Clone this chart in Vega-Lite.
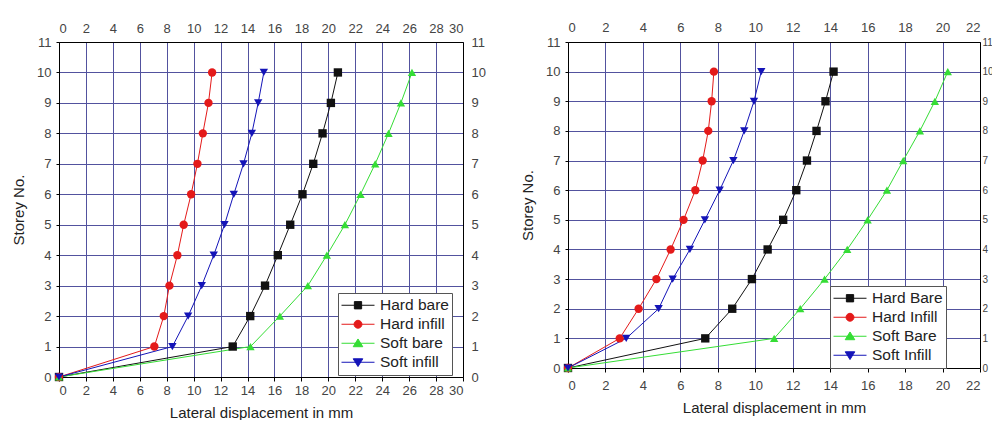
{
  "$schema": "https://vega.github.io/schema/vega-lite/v6.json",
  "background": "white",
  "padding": {"left": 11, "top": 21, "right": 0, "bottom": 0},
  "spacing": 34,
  "datasets": {
    "left": [
      {"s": "Hard bare", "d": 0, "storey": 0}, {"s": "Hard bare", "d": 12.9, "storey": 1}, {"s": "Hard bare", "d": 14.2, "storey": 2}, {"s": "Hard bare", "d": 15.3, "storey": 3}, {"s": "Hard bare", "d": 16.25, "storey": 4}, {"s": "Hard bare", "d": 17.17, "storey": 5}, {"s": "Hard bare", "d": 18.08, "storey": 6}, {"s": "Hard bare", "d": 18.88, "storey": 7}, {"s": "Hard bare", "d": 19.57, "storey": 8}, {"s": "Hard bare", "d": 20.19, "storey": 9}, {"s": "Hard bare", "d": 20.71, "storey": 10},
      {"s": "Hard infill", "d": 0, "storey": 0}, {"s": "Hard infill", "d": 7.08, "storey": 1}, {"s": "Hard infill", "d": 7.78, "storey": 2}, {"s": "Hard infill", "d": 8.2, "storey": 3}, {"s": "Hard infill", "d": 8.79, "storey": 4}, {"s": "Hard infill", "d": 9.26, "storey": 5}, {"s": "Hard infill", "d": 9.81, "storey": 6}, {"s": "Hard infill", "d": 10.28, "storey": 7}, {"s": "Hard infill", "d": 10.68, "storey": 8}, {"s": "Hard infill", "d": 11.1, "storey": 9}, {"s": "Hard infill", "d": 11.37, "storey": 10},
      {"s": "Soft bare", "d": 0, "storey": 0}, {"s": "Soft bare", "d": 14.22, "storey": 1}, {"s": "Soft bare", "d": 16.4, "storey": 2}, {"s": "Soft bare", "d": 18.48, "storey": 3}, {"s": "Soft bare", "d": 19.89, "storey": 4}, {"s": "Soft bare", "d": 21.23, "storey": 5}, {"s": "Soft bare", "d": 22.39, "storey": 6}, {"s": "Soft bare", "d": 23.48, "storey": 7}, {"s": "Soft bare", "d": 24.47, "storey": 8}, {"s": "Soft bare", "d": 25.39, "storey": 9}, {"s": "Soft bare", "d": 26.21, "storey": 10},
      {"s": "Soft infill", "d": 0, "storey": 0}, {"s": "Soft infill", "d": 8.42, "storey": 1}, {"s": "Soft infill", "d": 9.59, "storey": 2}, {"s": "Soft infill", "d": 10.6, "storey": 3}, {"s": "Soft infill", "d": 11.49, "storey": 4}, {"s": "Soft infill", "d": 12.29, "storey": 5}, {"s": "Soft infill", "d": 12.98, "storey": 6}, {"s": "Soft infill", "d": 13.7, "storey": 7}, {"s": "Soft infill", "d": 14.32, "storey": 8}, {"s": "Soft infill", "d": 14.79, "storey": 9}, {"s": "Soft infill", "d": 15.21, "storey": 10}
    ],
    "right": [
      {"s": "Hard Bare", "d": 0, "storey": 0}, {"s": "Hard Bare", "d": 7.33, "storey": 1}, {"s": "Hard Bare", "d": 8.77, "storey": 2}, {"s": "Hard Bare", "d": 9.82, "storey": 3}, {"s": "Hard Bare", "d": 10.66, "storey": 4}, {"s": "Hard Bare", "d": 11.49, "storey": 5}, {"s": "Hard Bare", "d": 12.19, "storey": 6}, {"s": "Hard Bare", "d": 12.76, "storey": 7}, {"s": "Hard Bare", "d": 13.27, "storey": 8}, {"s": "Hard Bare", "d": 13.75, "storey": 9}, {"s": "Hard Bare", "d": 14.18, "storey": 10},
      {"s": "Hard Infill", "d": 0, "storey": 0}, {"s": "Hard Infill", "d": 2.76, "storey": 1}, {"s": "Hard Infill", "d": 3.77, "storey": 2}, {"s": "Hard Infill", "d": 4.72, "storey": 3}, {"s": "Hard Infill", "d": 5.48, "storey": 4}, {"s": "Hard Infill", "d": 6.17, "storey": 5}, {"s": "Hard Infill", "d": 6.8, "storey": 6}, {"s": "Hard Infill", "d": 7.19, "storey": 7}, {"s": "Hard Infill", "d": 7.49, "storey": 8}, {"s": "Hard Infill", "d": 7.67, "storey": 9}, {"s": "Hard Infill", "d": 7.79, "storey": 10},
      {"s": "Soft Bare", "d": 0, "storey": 0}, {"s": "Soft Bare", "d": 11.01, "storey": 1}, {"s": "Soft Bare", "d": 12.4, "storey": 2}, {"s": "Soft Bare", "d": 13.7, "storey": 3}, {"s": "Soft Bare", "d": 14.91, "storey": 4}, {"s": "Soft Bare", "d": 16.0, "storey": 5}, {"s": "Soft Bare", "d": 17.03, "storey": 6}, {"s": "Soft Bare", "d": 17.9, "storey": 7}, {"s": "Soft Bare", "d": 18.79, "storey": 8}, {"s": "Soft Bare", "d": 19.59, "storey": 9}, {"s": "Soft Bare", "d": 20.28, "storey": 10},
      {"s": "Soft Infill", "d": 0, "storey": 0}, {"s": "Soft Infill", "d": 3.11, "storey": 1}, {"s": "Soft Infill", "d": 4.84, "storey": 2}, {"s": "Soft Infill", "d": 5.59, "storey": 3}, {"s": "Soft Infill", "d": 6.51, "storey": 4}, {"s": "Soft Infill", "d": 7.31, "storey": 5}, {"s": "Soft Infill", "d": 8.1, "storey": 6}, {"s": "Soft Infill", "d": 8.83, "storey": 7}, {"s": "Soft Infill", "d": 9.41, "storey": 8}, {"s": "Soft Infill", "d": 9.93, "storey": 9}, {"s": "Soft Infill", "d": 10.32, "storey": 10}
    ]
  },
  "hconcat": [
    {
      "width": 404,
      "height": 335,
      "data": {"name": "left"},
      "layer": [
        {
          "mark": {"type": "line", "strokeWidth": 1},
          "encoding": {
            "x": {"field": "d", "type": "quantitative", "scale": {"domain": [0, 30], "nice": false}, "axis": {"title": "Lateral displacement in mm", "values": [0,2,4,6,8,10,12,14,16,18,20,22,24,26,28,30], "grid": true, "labelPadding": 3, "titlePadding": 8}},
            "y": {"field": "storey", "type": "quantitative", "scale": {"domain": [0, 11], "nice": false}, "axis": {"title": "Storey No.", "values": [0,1,2,3,4,5,6,7,8,9,10,11], "grid": true, "tickSize": 3, "labelPadding": 5, "titlePadding": 10}},
            "color": {"field": "s", "type": "nominal", "scale": {"domain": ["Hard bare", "Hard infill", "Soft bare", "Soft infill"], "range": ["#111111", "#e41a1a", "#35dd35", "#1414b8"]}, "legend": null},
            "order": {"field": "storey", "type": "quantitative"}
          }
        },
        {
          "mark": {"type": "point", "filled": true, "size": 70, "opacity": 1},
          "encoding": {
            "x": {"field": "d", "type": "quantitative", "axis": null},
            "y": {"field": "storey", "type": "quantitative", "axis": null},
            "color": {"field": "s", "type": "nominal", "scale": {"domain": ["Hard bare", "Hard infill", "Soft bare", "Soft infill"], "range": ["#111111", "#e41a1a", "#35dd35", "#1414b8"]}, "legend": null},
            "shape": {"field": "s", "type": "nominal", "scale": {"domain": ["Hard bare", "Hard infill", "Soft bare", "Soft infill"], "range": ["square", "circle", "triangle-up", "triangle-down"]}, "legend": null}
          }
        },
        {
          "transform": [{"filter": "false"}],
          "mark": {"type": "point", "filled": true, "opacity": 1},
          "encoding": {
            "x": {"field": "d", "type": "quantitative", "axis": {"orient": "top", "title": null, "grid": false, "ticks": false, "values": [0,2,4,6,8,10,12,14,16,18,20,22,24,26,28,30], "labelPadding": 7}},
            "y": {"field": "storey", "type": "quantitative", "axis": {"orient": "right", "title": null, "grid": false, "ticks": false, "values": [0,1,2,3,4,5,6,7,8,9,10,11], "labelPadding": 8}},
            "shape": {"field": "s", "type": "nominal", "title": null, "scale": {"domain": ["Hard bare", "Hard infill", "Soft bare", "Soft infill"], "range": ["M-1,0H1M-0.22,-0.22H0.22V0.22H-0.22Z", "M-1,0H1M-0.24,0A0.24,0.24 0 1,0 0.24,0A0.24,0.24 0 1,0 -0.24,0Z", "M-1,0H1M0,-0.26L0.29,0.21H-0.29Z", "M-1,0H1M0,0.26L0.29,-0.21H-0.29Z"]}, "legend": {"orient": "none", "legendX": 279, "legendY": 251}},
            "fill": {"field": "s", "type": "nominal", "title": null, "scale": {"domain": ["Hard bare", "Hard infill", "Soft bare", "Soft infill"], "range": ["#111111", "#e41a1a", "#35dd35", "#1414b8"]}, "legend": {"orient": "none", "legendX": 279, "legendY": 251}},
            "stroke": {"field": "s", "type": "nominal", "title": null, "scale": {"domain": ["Hard bare", "Hard infill", "Soft bare", "Soft infill"], "range": ["#111111", "#e41a1a", "#35dd35", "#1414b8"]}, "legend": {"orient": "none", "legendX": 279, "legendY": 251}}
          }
        }
      ],
      "resolve": {"scale": {"shape": "independent", "fill": "independent", "stroke": "independent"}, "axis": {"x": "independent", "y": "independent"}}
    },
    {
      "width": 412,
      "height": 326,
      "data": {"name": "right"},
      "layer": [
        {
          "mark": {"type": "line", "strokeWidth": 1},
          "encoding": {
            "x": {"field": "d", "type": "quantitative", "scale": {"domain": [0, 22], "nice": false}, "axis": {"title": "Lateral displacement in mm", "values": [0,2,4,6,8,10,12,14,16,18,20,22], "grid": true, "labelPadding": 7, "titlePadding": 8}},
            "y": {"field": "storey", "type": "quantitative", "scale": {"domain": [0, 11], "nice": false}, "axis": {"title": "Storey No.", "values": [0,1,2,3,4,5,6,7,8,9,10,11], "grid": true, "tickSize": 3, "labelPadding": 5, "titlePadding": 10}},
            "color": {"field": "s", "type": "nominal", "scale": {"domain": ["Hard Bare", "Hard Infill", "Soft Bare", "Soft Infill"], "range": ["#111111", "#e41a1a", "#35dd35", "#1414b8"]}, "legend": null},
            "order": {"field": "storey", "type": "quantitative"}
          }
        },
        {
          "mark": {"type": "point", "filled": true, "size": 70, "opacity": 1},
          "encoding": {
            "x": {"field": "d", "type": "quantitative", "axis": null},
            "y": {"field": "storey", "type": "quantitative", "axis": null},
            "color": {"field": "s", "type": "nominal", "scale": {"domain": ["Hard Bare", "Hard Infill", "Soft Bare", "Soft Infill"], "range": ["#111111", "#e41a1a", "#35dd35", "#1414b8"]}, "legend": null},
            "shape": {"field": "s", "type": "nominal", "scale": {"domain": ["Hard Bare", "Hard Infill", "Soft Bare", "Soft Infill"], "range": ["square", "circle", "triangle-up", "triangle-down"]}, "legend": null}
          }
        },
        {
          "transform": [{"filter": "false"}],
          "mark": {"type": "point", "filled": true, "opacity": 1},
          "encoding": {
            "x": {"field": "d", "type": "quantitative", "axis": {"orient": "top", "title": null, "grid": false, "ticks": false, "values": [0,2,4,6,8,10,12,14,16,18,20,22], "labelPadding": 8}},
            "y": {"field": "storey", "type": "quantitative", "axis": {"orient": "right", "title": null, "grid": false, "ticks": false, "values": [0,1,2,3,4,5,6,7,8,9,10,11], "labelPadding": 2, "labelFontSize": 10}},
            "shape": {"field": "s", "type": "nominal", "title": null, "scale": {"domain": ["Hard Bare", "Hard Infill", "Soft Bare", "Soft Infill"], "range": ["M-1,0H1M-0.22,-0.22H0.22V0.22H-0.22Z", "M-1,0H1M-0.24,0A0.24,0.24 0 1,0 0.24,0A0.24,0.24 0 1,0 -0.24,0Z", "M-1,0H1M0,-0.26L0.29,0.21H-0.29Z", "M-1,0H1M0,0.26L0.29,-0.21H-0.29Z"]}, "legend": {"orient": "none", "legendX": 262, "legendY": 244}},
            "fill": {"field": "s", "type": "nominal", "title": null, "scale": {"domain": ["Hard Bare", "Hard Infill", "Soft Bare", "Soft Infill"], "range": ["#111111", "#e41a1a", "#35dd35", "#1414b8"]}, "legend": {"orient": "none", "legendX": 262, "legendY": 244}},
            "stroke": {"field": "s", "type": "nominal", "title": null, "scale": {"domain": ["Hard Bare", "Hard Infill", "Soft Bare", "Soft Infill"], "range": ["#111111", "#e41a1a", "#35dd35", "#1414b8"]}, "legend": {"orient": "none", "legendX": 262, "legendY": 244}}
          }
        }
      ],
      "resolve": {"scale": {"shape": "independent", "fill": "independent", "stroke": "independent"}, "axis": {"x": "independent", "y": "independent"}}
    }
  ],
  "resolve": {"scale": {"x": "independent", "y": "independent", "color": "independent", "shape": "independent", "fill": "independent", "stroke": "independent"}},
  "config": {
    "view": {"stroke": null},
    "font": "Liberation Sans",
    "axis": {"labelFont": "Liberation Sans", "titleFont": "Liberation Sans", "labelFontSize": 13, "labelColor": "#444444", "titleFontSize": 15, "titleFontWeight": "normal", "titleColor": "#222222", "domainColor": "#000000", "domainWidth": 1, "tickColor": "#000000", "tickSize": 4, "gridColor": "#52529e", "gridOpacity": 1, "gridWidth": 1},
    "legend": {"strokeColor": "#555555", "fillColor": "white", "padding": 3, "labelFont": "Liberation Sans", "labelFontSize": 15.5, "labelColor": "#222222", "symbolSize": 1089, "symbolStrokeWidth": 1, "symbolOpacity": 1, "clipHeight": 18.5, "rowPadding": 0, "labelOffset": 5, "symbolOffset": 0, "cornerRadius": 0}
  }
}
